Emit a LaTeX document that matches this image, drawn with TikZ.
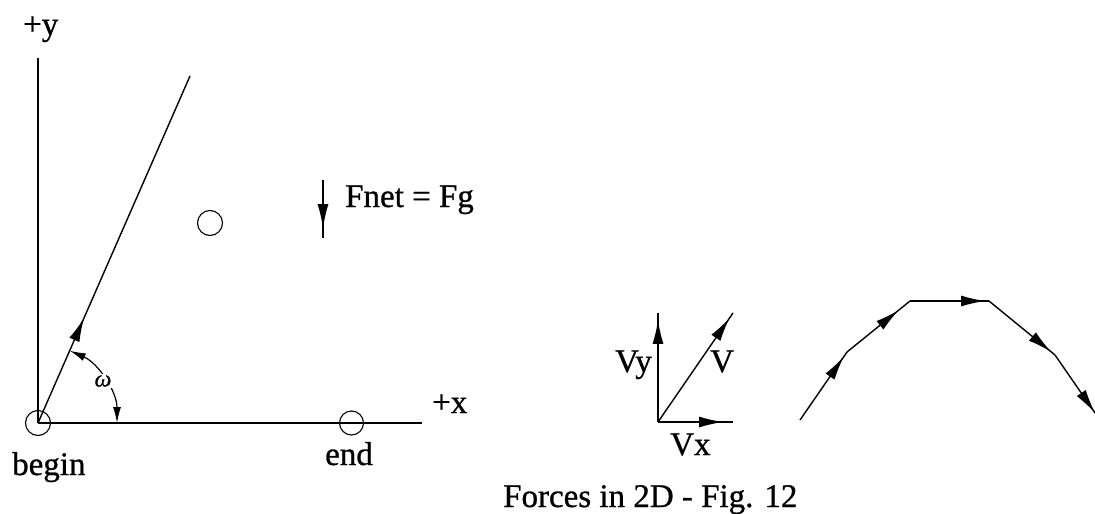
\documentclass[tikz,border=0pt]{standalone}
\usepackage{fontspec}
\setmainfont[FakeBold=0.8]{Liberation Serif}
\usetikzlibrary{arrows.meta,decorations.markings}
\tikzset{
  ln/.style={line width=1.4pt,black},
  midarrow/.style={postaction={decorate},decoration={markings,
     mark=at position #1 with {\arrow{Latex[length=24pt,width=11pt]}}}},
  lbl/.style={inner sep=0pt,font=\fontsize{33}{36}\selectfont},
  ball/.style={line width=1.1pt}
}
\begin{document}
\begin{tikzpicture}[x=1pt,y=1pt]
\useasboundingbox (0,0) rectangle (1095,-514);
% axes
\coordinate (O) at (38,-423);
\coordinate (ytop) at (38,-58);
\coordinate (xend) at (422,-423);
\coordinate (ltop) at (190,-76);
\draw[ln] (O) -- (ytop);
\draw[ln] (O) -- (xend);
\draw[ln,midarrow=0.303] (O) -- (ltop);
% angle arc
\draw[line width=1.2pt,{Latex[length=16pt,width=8pt]}-{Latex[length=16pt,width=8pt]}] (O) ++(0:79) arc (0:66.3:79);
\node[fill=white,inner sep=1pt,font=\fontsize{24}{26}\selectfont\itshape] (om) at (103,-381) {ω};
% balls
\node[ball,draw,circle,minimum size=25pt,inner sep=0pt] (bb) at (O) {};
\node[ball,draw,circle,minimum size=24pt,inner sep=0pt] (be) at (351.5,-423) {};
\node[ball,draw,circle,minimum size=25pt,inner sep=0pt] (bm) at (210,-223) {};
% Fnet
\coordinate (f1) at (323,-180);
\coordinate (f2) at (323,-238);
\draw[ln,midarrow=0.83] (f1) -- (f2);
% labels
\node[lbl,anchor=base west] (ly) at (23,-35) {+y};
\node[lbl,anchor=base west] (lx) at (432,-413) {+x};
\node[lbl,anchor=base west] (lb) at (12,-475) {begin};
\node[lbl,anchor=base west] (le) at (325,-465) {end};
\node[lbl,anchor=base west] (lf) at (345,-207) {Fnet = Fg};
\node[lbl,anchor=base west] (lc) at (503,-507) {Forces in 2D - Fig. 12};
% components
\coordinate (vo) at (658,-422);
\coordinate (vy) at (658,-313);
\coordinate (vx) at (733,-422);
\coordinate (vv) at (733,-313);
\draw[ln,midarrow=0.936] (vo) -- (vy);
\draw[ln,midarrow=0.867] (vo) -- (vx);
\draw[ln,midarrow=0.954] (vo) -- (vv);
\node[lbl,anchor=base east] (lvy) at (652,-372) {Vy};
\node[lbl,anchor=base west] (lv) at (710,-372) {V};
\node[lbl,anchor=base west] (lvx) at (670,-455) {Vx};
% trajectory
\begin{scope}
\clip (0,0) rectangle (1095,-514);
\coordinate (t0) at (800,-420);
\coordinate (t1) at (847,-352);
\coordinate (t2) at (910,-301);
\coordinate (t3) at (989,-301);
\coordinate (t4) at (1055,-355);
\coordinate (t5) at (1102,-423);
\draw[ln,midarrow=0.93] (t0) -- (t1);
\draw[ln,midarrow=0.82] (t1) -- (t2);
\draw[ln,midarrow=0.95] (t2) -- (t3);
\draw[ln,midarrow=0.94] (t3) -- (t4);
\draw[ln,midarrow=0.85] (t4) -- (t5);
\end{scope}
\end{tikzpicture}
\end{document}
